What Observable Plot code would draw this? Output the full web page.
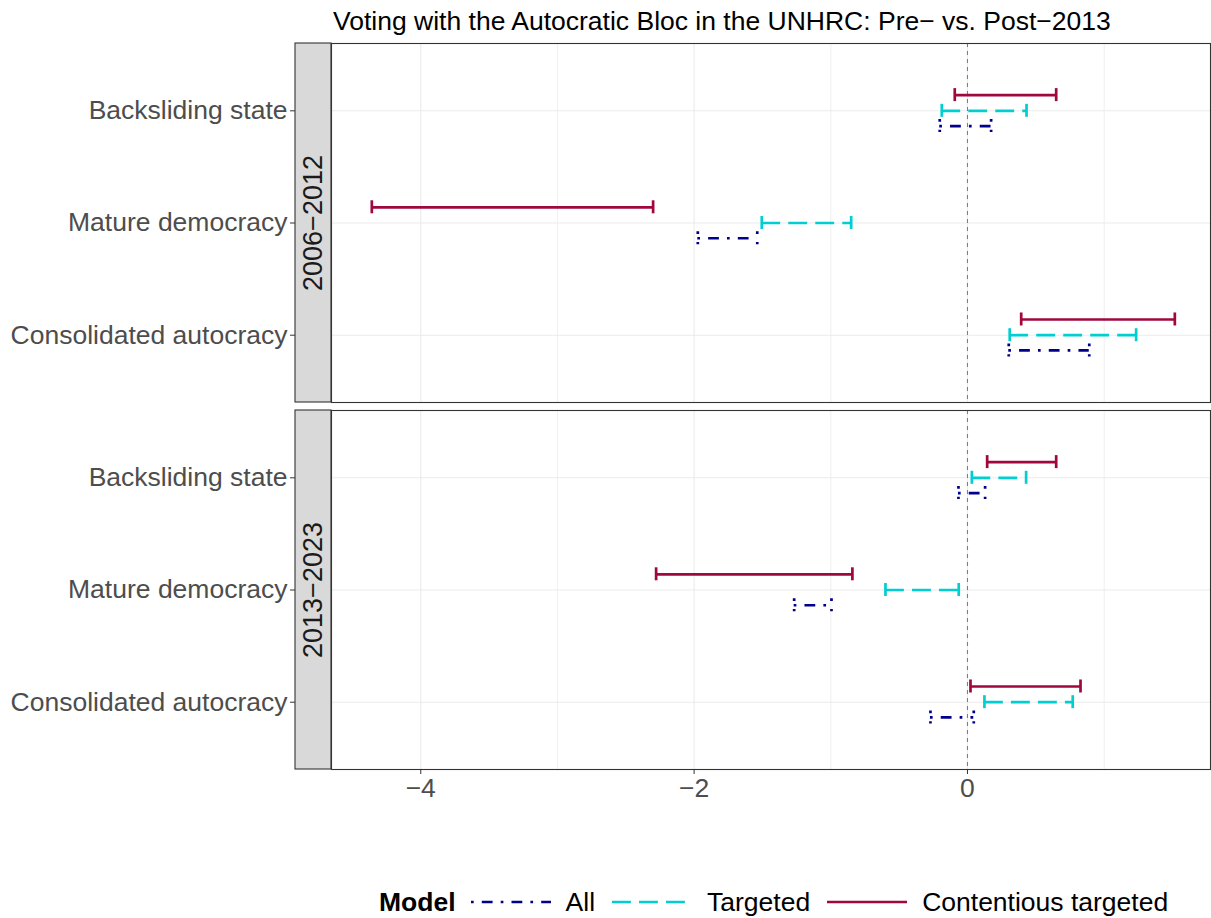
<!DOCTYPE html>
<html><head><meta charset="utf-8">
<script src="https://cdn.jsdelivr.net/npm/d3@7"></script>
<script src="https://cdn.jsdelivr.net/npm/@observablehq/plot@0.6"></script>
<style>
body{margin:0;background:#fff;font-family:"Liberation Sans",Arial,sans-serif;}
#wrap{position:relative;width:1211px;height:918px;overflow:hidden;}
#title{position:absolute;left:333px;top:5px;font-size:26.5px;line-height:32px;color:#000;white-space:nowrap;}
#chart{position:absolute;left:0;top:0;}
#legend{position:absolute;left:379px;top:884px;height:36px;display:flex;align-items:center;font-size:26.5px;color:#000;white-space:nowrap;}
#legend .t{font-weight:bold;margin-right:15px;}
#legend svg{margin-right:15px;}
#legend .lab{margin-right:17px;}
</style></head><body>
<div id="wrap">
  <div id="chart"></div>
  <div id="title">Voting with the Autocratic Bloc in the UNHRC: Pre− vs. Post−2013</div>
  <div id="legend"></div>
</div>
<script>
// ---- data ----
const categories = ["Consolidated autocracy", "Mature democracy", "Backsliding state"]; // y positions 1..3
const periods = ["2006−2012", "2013−2023"];
const models = ["All", "Targeted", "Contentious targeted"];
// order: period 1 (Consolidated, Mature, Backsliding), then period 2 (same order)
const allLow          = [0.302, -1.973, -0.203, -0.271, -1.268, -0.066];
const allHigh         = [0.891, -1.538,  0.173,  0.046, -0.995,  0.129];
const targetedLow     = [0.309, -1.505, -0.188,  0.124, -0.600,  0.032];
const targetedHigh    = [1.234, -0.851,  0.432,  0.770, -0.064,  0.429];
const contentiousLow  = [0.393, -4.358, -0.093,  0.022, -2.278,  0.144];
const contentiousHigh = [1.517, -2.300,  0.649,  0.827, -0.842,  0.649];
const xTicks = [-4, -2, 0];
const xMinor = [-3, -1, 1];

// ---- build table ----
const lows = [allLow, targetedLow, contentiousLow];
const highs = [allHigh, targetedHigh, contentiousHigh];
const rows = [];
models.forEach((m, mi) => {
  periods.forEach((p, pi) => {
    categories.forEach((c, ci) => {
      const k = pi * categories.length + ci;
      rows.push({model: m, period: p, category: c, pos: ci + 1, low: lows[mi][k], high: highs[mi][k]});
    });
  });
});

const styles = {
  "All": {color: "#00008B", dash: "2.7 8.1 10.8 8.1", dodge: -0.136},
  "Targeted": {color: "#00CED1", dash: "18.9 8.1", dodge: 0},
  "Contentious targeted": {color: "#A0073E", dash: null, dodge: 0.14}
};
const capHalf = 0.058;
const lw = 2.7;
const xDomain = [-4.653, 1.778];
const yDomain = [0.4, 3.6];
const fmtX = d => d < 0 ? "\u2212" + Math.abs(d) : String(d);

const barMarks = [];
models.forEach(m => {
  const s = styles[m];
  const data = rows.filter(d => d.model === m);
  const common = {fy: "period", stroke: s.color, strokeWidth: lw, strokeLinecap: "butt"};
  if (s.dash) common.strokeDasharray = s.dash;
  barMarks.push(Plot.ruleY(data, {...common, y: d => d.pos + s.dodge, x1: "low", x2: "high"}));
  barMarks.push(Plot.ruleX(data, {...common, x: "low", y1: d => d.pos + s.dodge + capHalf, y2: d => d.pos + s.dodge - capHalf}));
  barMarks.push(Plot.ruleX(data, {...common, x: "high", y1: d => d.pos + s.dodge + capHalf, y2: d => d.pos + s.dodge - capHalf}));
});

const chart = Plot.plot({
  width: 1211,
  height: 810,
  marginTop: 43,
  marginBottom: 40,
  marginLeft: 331,
  marginRight: 1,
  style: {fontFamily: "Liberation Sans, Arial, sans-serif", background: "transparent"},
  x: {domain: xDomain, label: null},
  y: {domain: yDomain, label: null},
  fy: {domain: periods, paddingInner: 8 / 367.5, paddingOuter: 0, axis: null, label: null},
  marks: [
    Plot.ruleY([1, 2, 3], {stroke: "#ebebeb", strokeWidth: 1.1}),
    Plot.ruleX(xTicks, {stroke: "#ebebeb", strokeWidth: 1.1}),
    Plot.ruleX(xMinor, {stroke: "#ebebeb", strokeWidth: 0.8}),
    Plot.rect([0], {x1: () => xDomain[0], x2: () => xDomain[0], y1: () => yDomain[0], y2: () => yDomain[1],
      insetLeft: -36, fill: "#d9d9d9", stroke: "#333333", strokeWidth: 1.1}),
    Plot.ruleX([0], {stroke: "#7f7f7f", strokeWidth: 1.1, strokeDasharray: "4 4"}),
    Plot.frame({stroke: "#333333", strokeWidth: 1.1}),
    ...barMarks,
    Plot.text(periods, {fy: d => d, text: d => d, x: () => xDomain[0], y: () => 2, dx: -18, rotate: -90,
      fontSize: 27, fill: "#1a1a1a"}),
    Plot.axisY({ticks: [1, 2, 3], tickFormat: v => categories[v - 1], dx: -36, tickSize: 5, tickPadding: 3,
      fontSize: 26.5, fill: "#4d4d4d", stroke: "#333333", label: null}),
    Plot.axisX({ticks: xTicks, tickFormat: fmtX, tickSize: 5, tickPadding: 4, fontSize: 26.5, fill: "#4d4d4d", stroke: "#333333", label: null})
  ]
});
document.getElementById("chart").appendChild(chart);

// ---- legend ----
const leg = document.getElementById("legend");
const t = document.createElement("span"); t.className = "t"; t.textContent = "Model"; leg.appendChild(t);
const ns = "http://www.w3.org/2000/svg";
models.forEach(m => {
  const s = styles[m];
  const svg = document.createElementNS(ns, "svg");
  svg.setAttribute("width", 80); svg.setAttribute("height", 20);
  const line = document.createElementNS(ns, "line");
  line.setAttribute("x1", 0); line.setAttribute("x2", 80); line.setAttribute("y1", 10); line.setAttribute("y2", 10);
  line.setAttribute("stroke", s.color); line.setAttribute("stroke-width", lw);
  if (s.dash) line.setAttribute("stroke-dasharray", s.dash);
  svg.appendChild(line); leg.appendChild(svg);
  const lab = document.createElement("span"); lab.className = "lab"; lab.textContent = m; leg.appendChild(lab);
});
</script>
</body></html>
